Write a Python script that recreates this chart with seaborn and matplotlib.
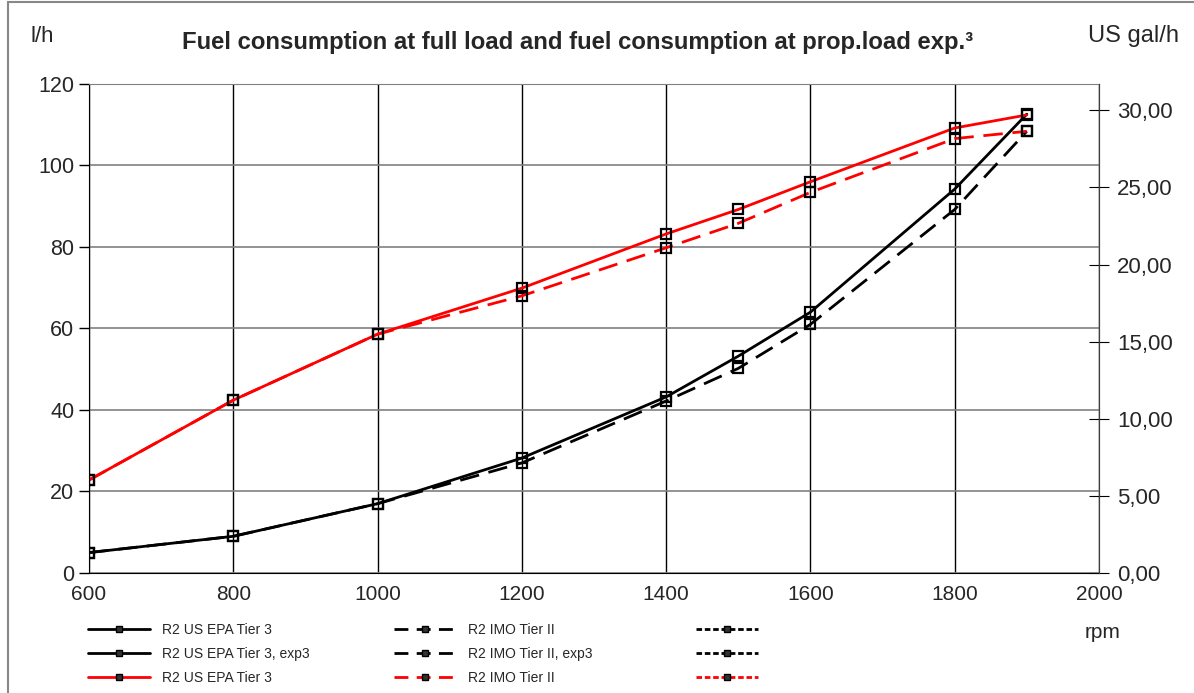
import numpy as np
import pandas as pd
import matplotlib
matplotlib.use("Agg")
import matplotlib.pyplot as plt
from matplotlib.lines import Line2D
from matplotlib.patches import Rectangle
from matplotlib.ticker import FuncFormatter
import seaborn as sns

# Datos (l/h frente a rpm)
rpm = [600, 800, 1000, 1200, 1400, 1500, 1600, 1800, 1900]
epa_exp3 = [5.0, 9.0, 17.0, 28.2, 43.2, 53.2, 64.0, 94.2, 112.6]
imo_exp3 = [5.0, 9.0, 17.0, 27.0, 42.2, 50.2, 61.0, 89.2, 108.4]
epa_full = [22.8, 42.4, 58.6, 69.9, 83.2, 89.2, 96.0, 109.2, 112.4]
imo_full = [22.8, 42.4, 58.6, 68.0, 79.8, 85.8, 93.4, 106.6, 108.4]

legend_cols = [
    ["R2 US EPA Tier 3", "R2 US EPA Tier 3, exp3", "R2 US EPA Tier 3"],
    ["R2 IMO Tier II", "R2 IMO Tier II, exp3", "R2 IMO Tier II"],
    ["", "", ""],
]
L_PER_GAL = 3.785

sns.set_style("white")
plt.rcParams["font.family"] = ["Liberation Sans", "DejaVu Sans"]

fig = plt.figure(figsize=(11.94, 6.93), dpi=100)
ax = fig.add_axes([0.0745, 0.1732, 0.8459, 0.7056])

dash = (0, (7, 3.5))
series = [
    (epa_exp3, "black", "-"),
    (imo_exp3, "black", dash),
    (epa_full, "red", "-"),
    (imo_full, "red", dash),
]
for vals, col, ls in series:
    df = pd.DataFrame({"rpm": rpm, "lh": vals})
    sns.lineplot(data=df, x="rpm", y="lh", ax=ax, color=col, linestyle=ls, lw=2,
                 marker="s", markersize=7, markerfacecolor="none",
                 markeredgecolor="black", markeredgewidth=1.6)

ax.set_xlim(600, 2000)
ax.set_ylim(0, 120)
ax.set_xticks(range(600, 2001, 200))
ax.set_yticks(range(0, 121, 20))
ax.set_xlabel("")
ax.set_ylabel("")
ax.xaxis.grid(True, color="black", lw=1)
ax.yaxis.grid(True, color="#808080", lw=1.2)
ax.set_axisbelow(True)
ax.tick_params(axis="both", labelsize=15.5, length=7, color="black", direction="out", width=1)
ax.tick_params(axis="x", pad=2, labelsize=15)
ax.spines["top"].set_color("#808080")
ax.spines["left"].set_color("black")
ax.spines["bottom"].set_color("black")
ax.spines["right"].set_color("#404040")

ax2 = ax.twinx()
ax2.set_ylim(0, 120 / L_PER_GAL)
ax2.set_yticks(np.arange(0, 31, 5))
ax2.yaxis.set_major_formatter(FuncFormatter(lambda v, p: f"{v:.2f}".replace(".", ",")))
ax2.tick_params(axis="y", labelsize=16, length=14, direction="inout", color="black", pad=6)
ax2.spines["top"].set_visible(False)
ax2.spines["left"].set_visible(False)
ax2.spines["bottom"].set_visible(False)
ax2.spines["right"].set_color("#404040")

fig.text(42 / 1194, 1 - 36 / 693, "l/h", fontsize=16, ha="center", va="center")
fig.text(1134 / 1194, 1 - 36 / 693, "US gal/h", fontsize=17, ha="center", va="center")
fig.text(578 / 1194, 1 - 42 / 693, "Fuel consumption at full load and fuel consumption at prop.load exp.\u00b3",
         fontsize=17.2, fontweight="bold", ha="center", va="center")
fig.text(1103 / 1194, 1 - 632 / 693, "rpm", fontsize=15, ha="center", va="center")

# Leyenda: tres columnas de ancho fijo
col_styles = [
    [("black", "-"), ("black", "-"), ("red", "-")],
    [("black", (0, (5, 3))), ("black", (0, (5, 3))), ("red", (0, (5, 3)))],
    [("black", (0, (2, 1))), ("black", (0, (2, 1))), ("red", (0, (2, 1)))],
]
col_x = [75, 381, 683]
for labels, styles, x0 in zip(legend_cols, col_styles, col_x):
    handles = [Line2D([], [], color=c, linestyle=ls, lw=2, marker="s", markersize=5,
                      markerfacecolor="#333333", markeredgecolor="black")
               for c, ls in styles]
    fig.legend(handles, labels, ncol=1, loc="upper left",
               bbox_to_anchor=(x0 / 1194, 1 - 610 / 693), frameon=False, fontsize=10,
               handlelength=4.5, labelspacing=0.75, handletextpad=0.9)

fig.patches.append(Rectangle((8 / 1194, -0.05), 1.2, 1.05 - 2 / 693, transform=fig.transFigure,
                             fill=False, edgecolor="#888888", lw=1.5))

fig.savefig("out.png", dpi=100)
